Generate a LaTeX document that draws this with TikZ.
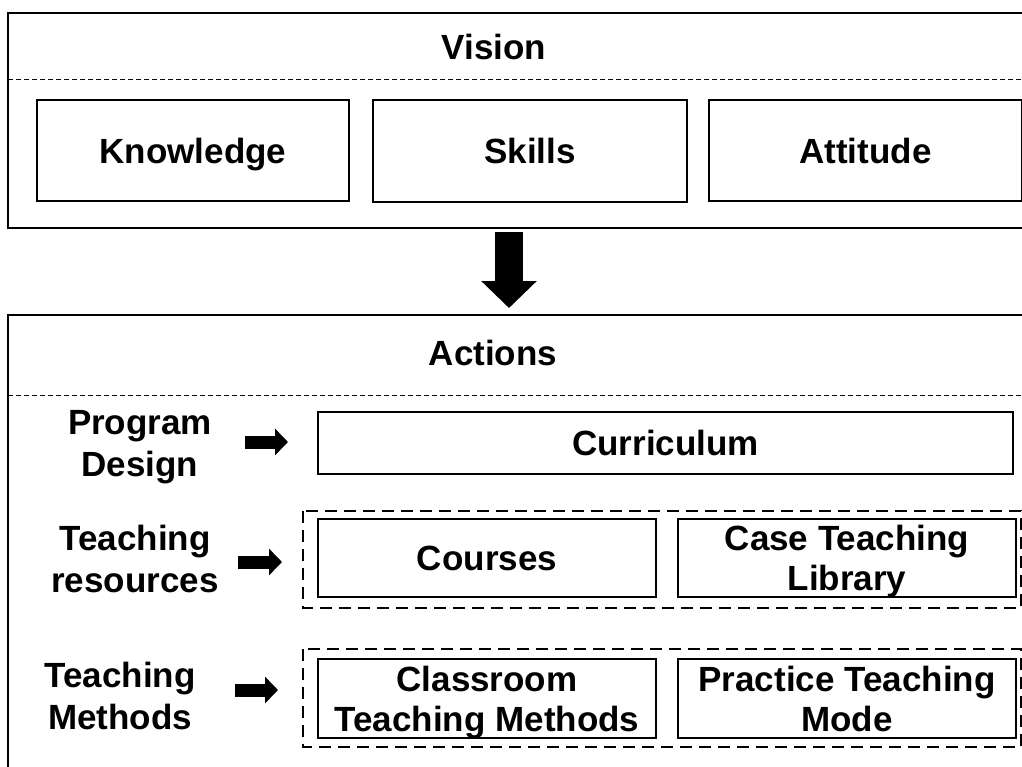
\documentclass[tikz,border=0pt]{standalone}
\usepackage{fontspec}
\setmainfont{Liberation Sans}
\usetikzlibrary{arrows.meta}
\tikzset{
  outerbox/.style={draw=black, line width=2pt},
  sepline/.style={draw=black, line width=0.9pt, dash pattern=on 5pt off 3pt},
  grpbox/.style={draw=black, line width=1.6pt, dash pattern=on 12pt off 7pt},
  inbox/.style={draw=black, line width=1.6pt, inner sep=0pt, align=center,
    font=\fontsize{35}{40}\selectfont\bfseries},
  oneline/.style={text height=25pt, text depth=0pt},
  nodepth/.style={text depth=0pt},
  title/.style={inner sep=0pt, align=center, text height=25pt, text depth=0pt,
    font=\fontsize{35}{41}\selectfont\bfseries},
  lbl/.style={inner sep=0pt, align=center, font=\fontsize{35}{42}\selectfont\bfseries},
  bigarrow/.style={line width=28pt, -{Triangle[width=54pt,length=27pt]}},
  smallarrow/.style={line width=13pt, -{Triangle[width=26pt,length=13pt]}},
}
\begin{document}
\begin{tikzpicture}[x=1pt,y=-1pt]
\useasboundingbox (0,0) rectangle (1022,766);
\clip (0,0) rectangle (1022,766);
% outer frames
\draw[outerbox] (8,13) rectangle (1100,228);
\draw[sepline] (8,79) -- (1022,79);
\draw[outerbox] (8,315) rectangle (1100,820);
\draw[sepline] (8,395) -- (1022,395);
% titles
\node[title] (vision) at (494,47) {Vision};
\node[title] (actions) at (493,353) {Actions};
% vision boxes
\node[inbox, oneline, minimum width=312pt, minimum height=101pt] (know) at (193,150.5) {Knowledge};
\node[inbox, oneline, minimum width=314pt, minimum height=102pt] (skills) at (530,151) {Skills};
\node[inbox, oneline, minimum width=313pt, minimum height=101pt] (att) at (865.5,150.5) {Attitude};
% big arrow
\coordinate (ba1) at (509,232);
\coordinate (ba2) at (509,308);
\draw[bigarrow] (ba1) -- (ba2);
% group dashed boxes
\draw[grpbox] (303,511) rectangle (1021,608);
\draw[grpbox] (303,649) rectangle (1021,747);
% action boxes
\node[inbox, oneline, minimum width=695pt, minimum height=62pt] (curr) at (665.5,443) {Curriculum};
\node[inbox, oneline, minimum width=338pt, minimum height=78pt] (courses) at (487,558) {Courses};
\node[inbox, nodepth, minimum width=338pt, minimum height=78pt] (case) at (847,558) {Case Teaching\\Library};
\node[inbox, nodepth, minimum width=338pt, minimum height=79pt] (class) at (487,698.5) {Classroom\\Teaching Methods};
\node[inbox, nodepth, minimum width=338pt, minimum height=79pt] (prac) at (847,698.5) {Practice Teaching\\Mode};
% left labels
\node[lbl] (pd) at (140,447) {Program\\Design};
\node[lbl] (tr) at (135,559) {Teaching\\resources};
\node[lbl] (tm) at (120,696) {Teaching\\Methods};
% small arrows
\coordinate (a1s) at (245,442); \coordinate (a1e) at (288,442);
\coordinate (a2s) at (238,562); \coordinate (a2e) at (282,562);
\coordinate (a3s) at (235,690); \coordinate (a3e) at (278,690);
\draw[smallarrow] (a1s) -- (a1e);
\draw[smallarrow] (a2s) -- (a2e);
\draw[smallarrow] (a3s) -- (a3e);
\end{tikzpicture}
\end{document}
